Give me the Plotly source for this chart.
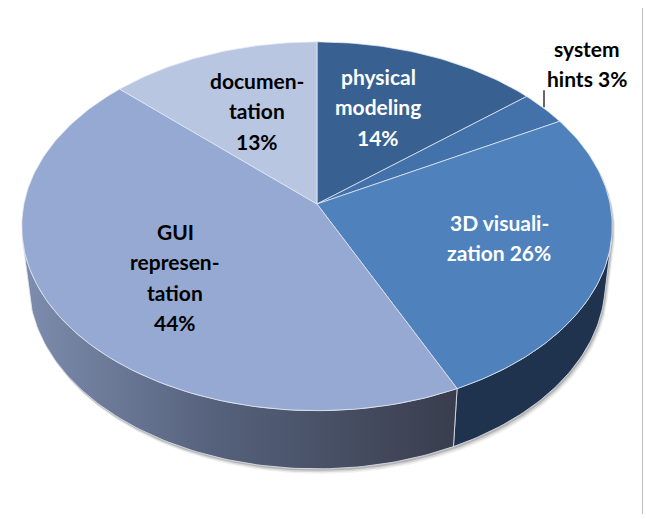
import numpy as np
import plotly.graph_objects as go

# ---------------- data ----------------
categories = ["physical modeling", "system hints", "3D visualization",
              "GUI representation", "documentation"]
values = [14, 3, 26, 44, 13]
label_lines = [["physical", "modeling", "{p}%"],
               ["system", "hints {p}%"],
               ["3D visuali-", "zation {p}%"],
               ["GUI", "represen-", "tation", "{p}%"],
               ["documen-", "tation", "{p}%"]]

# ---------------- style ----------------
top_colors = ["#386191", "#4371AA", "#4F81BD", "#95A9D2", "#B9C6E2"]
side_colors = ["#1E2F47", "#22375A", "#1F324E", None, "#5A6A88"]
gui_side_scale = [[0, "#7e8dae"], [0.45, "#55617b"], [1, "#393d4d"]]
label_colors = ["white", "black", "white", "black", "black"]
label_pos = [(378, 76), (587, 48), (499, 222), (175, 231), (257, 80)]
LINE_H = 30.5
FONT = dict(family="Lato, 'Open Sans', sans-serif", size=21, weight="bold")

W, H = 646, 519
# projection parameters (camera elevation / distance / focal / center)
SP = 0.62
CP = np.sqrt(1 - SP ** 2)
D, F = 6.5, 1905.0
CX, CY = 317.0, 204.0
T = 0.25


def proj(x, z, h):
    depth = D - h * SP - z * CP
    sx = CX + F * x / depth
    sy = CY - F * (h * CP - z * SP) / depth
    return sx, sy


def arc(a1, a2, h, n=None):
    if n is None:
        n = max(int(abs(a2 - a1) / np.pi * 180) + 2, 3)
    a = np.linspace(a1, a2, n)
    return proj(np.sin(a), -np.cos(a), h)


total = float(sum(values))
bounds = np.concatenate([[0], np.cumsum(values)]) / total * 2 * np.pi
vis_lo = np.arccos(-1 / (D * CP))
vis_hi = 2 * np.pi - vis_lo

fig = go.Figure()

# shadow of the whole disc
for off, op in [(5, 0.06), (3.5, 0.10), (2, 0.16)]:
    xt, yt = arc(vis_hi - 2 * np.pi, vis_lo, 0, 300)
    xb, yb = arc(vis_lo, vis_hi, -T, 300)
    xs = np.concatenate([xt, xb]) + off * 0.6
    ys = np.concatenate([yt, yb]) + off
    fig.add_trace(go.Scatter(x=xs, y=ys, mode="lines", fill="toself",
                             fillcolor=f"rgba(0,0,0,{op})", line=dict(width=0),
                             hoverinfo="skip", showlegend=False))

# side faces (visible part only)
for i in range(len(values)):
    a1, a2 = max(bounds[i], vis_lo), min(bounds[i + 1], vis_hi)
    if a2 <= a1:
        continue
    xt, yt = arc(a1, a2, 0)
    xb, yb = arc(a2, a1, -T)
    xs = np.concatenate([xt, xb, xt[:1]])
    ys = np.concatenate([yt, yb, yt[:1]])
    kw = {}
    if side_colors[i] is None:
        kw["fillgradient"] = dict(type="horizontal", colorscale=gui_side_scale)
    else:
        kw["fillcolor"] = side_colors[i]
    fig.add_trace(go.Scatter(x=xs, y=ys, mode="lines", fill="toself",
                             line=dict(width=1, color="rgba(225,230,240,0.8)"),
                             hoverinfo="skip", showlegend=False, **kw))

# top faces
for i in range(len(values)):
    xa, ya = arc(bounds[i], bounds[i + 1], 0)
    x0, y0 = proj(0, 0, 0)
    xs = np.concatenate([[x0], xa, [x0]])
    ys = np.concatenate([[y0], ya, [y0]])
    fig.add_trace(go.Scatter(x=xs, y=ys, mode="lines", fill="toself",
                             fillcolor=top_colors[i],
                             line=dict(width=1, color="rgba(230,235,245,0.75)"),
                             hoverinfo="skip", showlegend=False,
                             name=categories[i]))

# leader line for the small slice
mid = (bounds[1] + bounds[2]) / 2
lx, ly = proj(np.sin(mid), -np.cos(mid), 0)
fig.add_trace(go.Scatter(x=[lx, lx], y=[ly - 1, ly - 18], mode="lines",
                         line=dict(width=1.2, color="black"),
                         hoverinfo="skip", showlegend=False))

# labels
for i, lines in enumerate(label_lines):
    cx, cy = label_pos[i]
    for j, ln in enumerate(lines):
        fig.add_annotation(x=cx, y=cy + j * LINE_H, xref="x", yref="y",
                           text=ln.format(p=values[i]), showarrow=False,
                           font=dict(color=label_colors[i], **FONT),
                           xanchor="center", yanchor="middle")

# chart-area border fragment at the right
fig.add_shape(type="line", x0=642.5, x1=642.5, y0=8, y1=514, xref="x", yref="y",
              line=dict(color="#c4c4c4", width=1.2))

fig.update_layout(width=W, height=H, autosize=False,
                  margin=dict(l=0, r=0, t=0, b=0),
                  paper_bgcolor="white", plot_bgcolor="white",
                  xaxis=dict(range=[0, W], visible=False, fixedrange=True),
                  yaxis=dict(range=[H, 0], visible=False, fixedrange=True),
                  showlegend=False)

fig.write_html("out.html", config={"displayModeBar": False},
               post_script="document.body.style.margin='0';"
                           "document.body.style.overflow='hidden';")
